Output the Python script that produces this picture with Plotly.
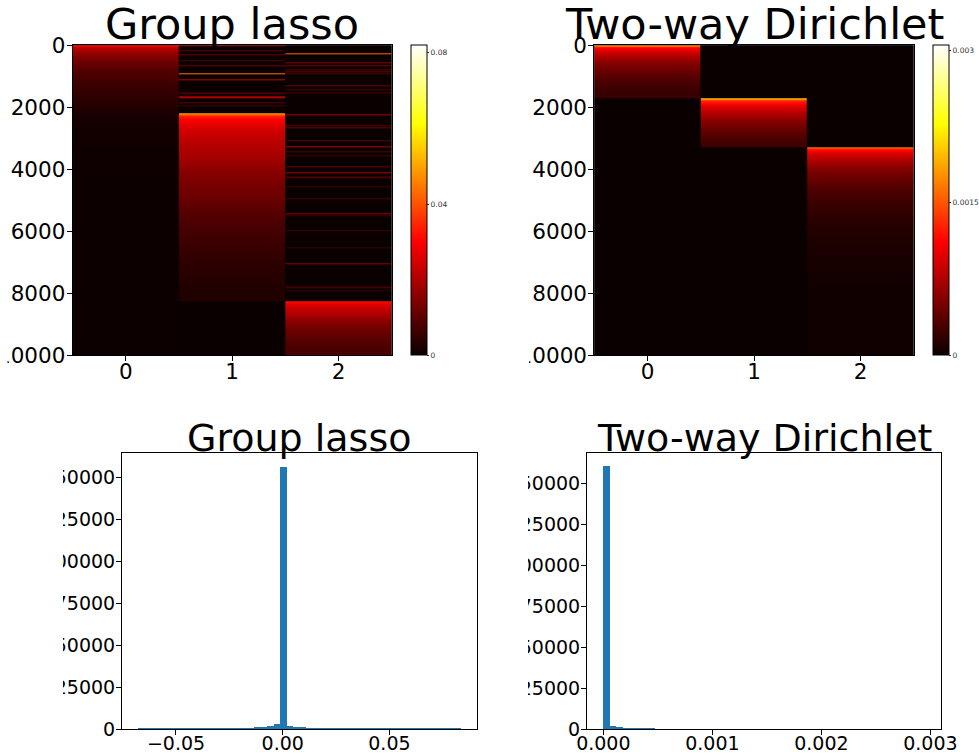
import numpy as np
import plotly.graph_objects as go

W, H = 979, 756

# ---------------- data: heatmap column profiles (row index, value) ----------------
N_ROWS = 10000
LINE_W = 35  # thickness (rows) of isolated stripes

# Group lasso, column 0 (decaying block from the top)
gl_c0_rows = [0, 30, 80, 150, 250, 400, 550, 700, 900, 1150, 1400, 1700, 2000, 2300, 2700, 3500, 5000]
gl_c0_vals = [0.030, 0.026, 0.022, 0.019, 0.0165, 0.014, 0.012, 0.010, 0.0083, 0.0068, 0.0055,
              0.0042, 0.0030, 0.0018, 0.0010, 0.0005, 0.0002]
gl_c0_end = 10000

# Group lasso, column 1
gl_c1_rows = [2200, 2240, 2300, 2400, 2600, 2900, 3200, 3600, 4000, 4400, 4900, 5400, 5900,
              6400, 6900, 7400, 7900]
gl_c1_vals = [0.052, 0.040, 0.033, 0.030, 0.026, 0.023, 0.021, 0.019, 0.016, 0.0138, 0.0118,
              0.0093, 0.0075, 0.0060, 0.0047, 0.0037, 0.0028]
gl_c1_end = 8250
gl_c1_line_rows = [0, 150, 280, 470, 640, 900, 1100, 1530, 1640, 1675, 1850, 1930]
gl_c1_line_vals = [0.018, 0.010, 0.012, 0.009, 0.013, 0.044, 0.022, 0.008, 0.022, 0.020, 0.010, 0.008]

# Group lasso, column 2
gl_c2_rows = [8250, 8290, 8350, 8450, 8600, 8800, 9000, 9250, 9500, 9750]
gl_c2_vals = [0.033, 0.029, 0.026, 0.0235, 0.021, 0.017, 0.014, 0.0115, 0.0095, 0.008]
gl_c2_end = 10000
gl_c2_line_rows = [250, 560, 640, 780, 840, 900, 1280, 1420, 1500, 2230, 2570, 2630, 3060,
                   3270, 3430, 3540, 3900, 4110, 4240, 4560, 4940, 5420, 5480, 5960, 6500, 7030,
                   7790, 7900]
gl_c2_line_vals = [0.042, 0.016, 0.014, 0.010, 0.012, 0.010, 0.012, 0.008, 0.009, 0.020,
                   0.010, 0.012, 0.010, 0.020, 0.009, 0.008, 0.012, 0.020, 0.008, 0.007, 0.008,
                   0.016, 0.008, 0.007, 0.006, 0.016, 0.007, 0.006]

# Two-way Dirichlet
td_c0_rows = [0, 30, 80, 150, 250, 400, 550, 700, 900, 1100, 1300, 1500]
td_c0_vals = [0.0019, 0.0014, 0.00115, 0.00098, 0.00085, 0.00070, 0.00058, 0.00048, 0.00040,
              0.00032, 0.00026, 0.00021]
td_c0_end = 1710
td_c1_rows = [1710, 1740, 1790, 1860, 1950, 2050, 2200, 2400, 2600, 2800, 3000, 3150]
td_c1_vals = [0.0021, 0.0016, 0.0013, 0.00115, 0.0010, 0.00088, 0.00075, 0.00060, 0.00048,
              0.00038, 0.00030, 0.00025]
td_c1_end = 3300
td_c2_rows = [3300, 3330, 3380, 3450, 3550, 3700, 3900, 4100, 4400, 4700, 5000, 5400, 5800,
              6300, 7000, 8000]
td_c2_vals = [0.0017, 0.0013, 0.00112, 0.0010, 0.00088, 0.00075, 0.00060, 0.00050, 0.00040,
              0.00030, 0.00024, 0.00018, 0.00013, 0.00009, 0.00006, 0.00003]
td_c2_end = 10000

gl_vmax = 0.082
td_vmax = 0.00305
gl_cb_ticks = [0, 0.04, 0.08]
gl_cb_text = ["0", "0.04", "0.08"]
td_cb_ticks = [0, 0.0015, 0.003]
td_cb_text = ["0", "0.0015", "0.003"]
hm_yticks = [0, 2000, 4000, 6000, 8000, 10000]
hm_xticks = [0, 1, 2]

# ---------------- data: histograms ----------------
gl_hist_lo, gl_hist_hi = -0.0677, 0.0834
gl_counts = [40, 20, 20, 25, 25, 30, 30, 35, 40, 45, 50, 60, 70, 80, 100, 130, 170, 250,
             700, 750, 1500, 2700, 156000, 1500, 750, 650,
             250, 170, 130, 100, 80, 70, 60, 50, 45, 40, 35, 30, 30, 25, 25, 20, 20, 20,
             20, 20, 20, 20, 20, 30]
td_hist_lo, td_hist_hi = 0.0, 0.00296
td_counts = [160350, 1650, 800, 60, 30, 15, 8, 5, 3, 2, 1, 1, 1, 1, 0, 0, 0,
             0, 0, 0, 0, 0, 0, 0, 0, 0, 0, 0, 0, 0, 0, 0, 0, 0, 0, 0, 0, 0, 0, 0, 0, 0,
             0, 0, 0, 0, 0, 0, 0, 1]
hist_yticks = [0, 25000, 50000, 75000, 100000, 125000, 150000]

# ---------------- styling ----------------
FONT = "DejaVu Sans"
BAR_COLOR = "#1f77b4"
BG0 = "rgb(10,0,0)"
HOT = [[0.0, BG0], [0.365, "rgb(255,0,0)"], [0.746, "rgb(255,255,0)"],
       [1.0, "rgb(255,255,255)"]]


def px_x(p):
    return p / W


def px_y(p):
    return 1 - p / H


def column_knots(block_rows, block_vals, block_end, line_rows=(), line_vals=(), line_w=LINE_W):
    """Knots (row, value) of one column: stripes and blocks are flat/graded, gaps are 0."""
    segs = []
    for r, v in zip(line_rows, line_vals):
        segs.append([(r, v), (r + line_w - 1, v)])
    blk = list(zip(block_rows, block_vals)) + [(block_end - 1, block_vals[-1])]
    segs.append(blk)
    segs.sort(key=lambda s: s[0][0])
    knots = []
    cur = 0
    for seg in segs:
        s = seg[0][0]
        if s > cur:
            knots.append((cur, 0.0))
            if s - 1 > cur:
                knots.append((s - 1, 0.0))
        knots.extend(seg)
        cur = seg[-1][0] + 1
    if cur < N_ROWS:
        knots.append((cur, 0.0))
        knots.append((N_ROWS, 0.0))
    ys = [k[0] for k in knots]
    zs = [[k[1], k[1]] for k in knots]
    return ys, zs


fig = go.Figure()

panels = [
    ("x", "y", "coloraxis", [
        column_knots(gl_c0_rows, gl_c0_vals, gl_c0_end),
        column_knots(gl_c1_rows, gl_c1_vals, gl_c1_end, gl_c1_line_rows, gl_c1_line_vals),
        column_knots(gl_c2_rows, gl_c2_vals, gl_c2_end, gl_c2_line_rows, gl_c2_line_vals),
    ]),
    ("x2", "y2", "coloraxis2", [
        column_knots(td_c0_rows, td_c0_vals, td_c0_end),
        column_knots(td_c1_rows, td_c1_vals, td_c1_end),
        column_knots(td_c2_rows, td_c2_vals, td_c2_end),
    ]),
]
for xa, ya, ca, cols in panels:
    for c, (ys, zs) in enumerate(cols):
        fig.add_trace(go.Heatmap(
            x=[c - 0.25, c + 0.25], y=ys, z=zs, zsmooth="best",
            coloraxis=ca, xaxis=xa, yaxis=ya, hoverinfo="skip"))

for lo, hi, counts, xa, ya in [(gl_hist_lo, gl_hist_hi, gl_counts, "x3", "y3"),
                              (td_hist_lo, td_hist_hi, td_counts, "x4", "y4")]:
    edges = np.linspace(lo, hi, len(counts) + 1)
    fig.add_trace(go.Bar(x=(edges[:-1] + edges[1:]) / 2, y=counts, width=edges[1] - edges[0],
                         marker=dict(color=BAR_COLOR, line=dict(width=0)),
                         xaxis=xa, yaxis=ya, showlegend=False, hoverinfo="skip"))

ax_common = dict(showline=True, mirror=True, linecolor="black", linewidth=1, ticks="outside",
                 ticklen=5, tickwidth=1, tickcolor="black", showgrid=False, zeroline=False)
xstand = dict(ticklabelstandoff=-8)
ystand = dict(ticklabelstandoff=-3)
top_font = dict(family=FONT, size=21.5, color="black")
bot_font = dict(family=FONT, size=19, color="black")

HM1_X = [72.7, 391.7]
HM2_X = [594.3, 913.7]
HI1_X = [122, 476.7]
HI2_X = [587, 941.3]
hm_y = [px_y(355.3), px_y(45.3)]
hist_y = [px_y(729.3), px_y(453.3)]

layout_axes = dict(
    xaxis=dict(domain=[px_x(HM1_X[0]), px_x(HM1_X[1])], range=[-0.5, 2.5], tickvals=hm_xticks,
               anchor="y", tickfont=top_font, **ax_common, **xstand),
    yaxis=dict(domain=hm_y, range=[N_ROWS, 0], tickvals=hm_yticks,
               ticktext=[str(v) for v in hm_yticks], anchor="x", tickfont=top_font,
               **ax_common, **ystand),
    xaxis2=dict(domain=[px_x(HM2_X[0]), px_x(HM2_X[1])], range=[-0.5, 2.5], tickvals=hm_xticks,
                anchor="y2", tickfont=top_font, **ax_common, **xstand),
    yaxis2=dict(domain=hm_y, range=[N_ROWS, 0], tickvals=hm_yticks,
                ticktext=[str(v) for v in hm_yticks], anchor="x2", tickfont=top_font,
                **ax_common, **ystand),
    xaxis3=dict(domain=[px_x(HI1_X[0]), px_x(HI1_X[1])], range=[-0.0753, 0.0909],
                tickvals=[-0.05, 0, 0.05], ticktext=["\u22120.05", "0.00", "0.05"],
                anchor="y3", tickfont=bot_font, **ax_common, **xstand),
    yaxis3=dict(domain=hist_y, range=[0, 164300], tickvals=hist_yticks,
                ticktext=[str(v) for v in hist_yticks],
                anchor="x3", tickfont=bot_font, **ax_common, **ystand),
    xaxis4=dict(domain=[px_x(HI2_X[0]), px_x(HI2_X[1])], range=[-0.00015, 0.0031],
                tickvals=[0, 0.001, 0.002, 0.003], ticktext=["0.000", "0.001", "0.002", "0.003"],
                anchor="y4", tickfont=bot_font, **ax_common, **xstand),
    yaxis4=dict(domain=hist_y, range=[0, 168400], tickvals=hist_yticks,
                ticktext=[str(v) for v in hist_yticks],
                anchor="x4", tickfont=bot_font, **ax_common, **ystand),
)


def cbar(xpx, ticks, text):
    return dict(x=px_x(xpx), xanchor="left", xpad=0, y=(hm_y[0] + hm_y[1]) / 2,
                yanchor="middle", len=hm_y[1] - hm_y[0], lenmode="fraction", ypad=0,
                thickness=16, outlinecolor="black", outlinewidth=1, ticks="outside",
                ticklen=2, tickwidth=1, tickcolor="#333", tickvals=ticks, ticktext=text,
                tickfont=dict(family=FONT, size=7.5, color="#333"))


titles = [
    ("Group lasso", sum(HM1_X) / 2, 51, 43),
    ("Two-way Dirichlet", sum(HM2_X) / 2, 51, 43),
    ("Group lasso", sum(HI1_X) / 2, 461.5, 38),
    ("Two-way Dirichlet", sum(HI2_X) / 2, 461.5, 38),
]
annotations = [dict(text=t, x=px_x(cx), y=px_y(by), xref="paper", yref="paper",
                    xanchor="center", yanchor="bottom", showarrow=False,
                    font=dict(family=FONT, size=s, color="black"))
               for t, cx, by, s in titles]

shapes = []
# dark background under each heatmap (value 0 of the colormap)
for xs in (HM1_X, HM2_X):
    shapes.append(dict(type="rect", xref="paper", yref="paper", x0=px_x(xs[0]), x1=px_x(xs[1]),
                       y0=hm_y[0], y1=hm_y[1], fillcolor=BG0, line=dict(width=0), layer="below"))
# white masks emulating the clipped left edges of each panel image
masks = [(0, 7.5, 0, 390), (480, 529, 20, 390), (0, 63, 430, 756), (480, 528, 430, 756)]
for a, b, c, d in masks:
    shapes.append(dict(type="rect", xref="paper", yref="paper", x0=px_x(a), x1=px_x(b),
                       y0=px_y(d), y1=px_y(c), fillcolor="white", line=dict(width=0),
                       layer="above"))

fig.update_layout(
    width=W, height=H, margin=dict(l=0, r=0, t=0, b=0, autoexpand=False),
    paper_bgcolor="white", plot_bgcolor="white", showlegend=False, bargap=0,
    font=dict(family=FONT, color="black"),
    coloraxis=dict(colorscale=HOT, cmin=0, cmax=gl_vmax,
                   colorbar=cbar(410.5, gl_cb_ticks, gl_cb_text)),
    coloraxis2=dict(colorscale=HOT, cmin=0, cmax=td_vmax,
                    colorbar=cbar(932.7, td_cb_ticks, td_cb_text)),
    annotations=annotations, shapes=shapes,
    **layout_axes,
)

fig.write_html("out.html")
